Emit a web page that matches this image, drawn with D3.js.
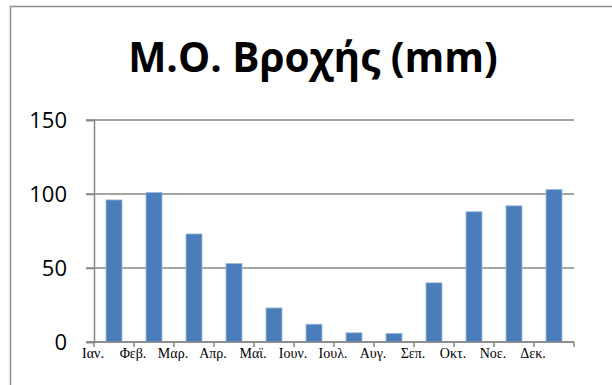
<!DOCTYPE html>
<html>
<head>
<meta charset="utf-8">
<script src="https://cdn.jsdelivr.net/npm/d3@7"></script>
<style>
  html, body { margin: 0; padding: 0; background: #fff; }
  svg { display: block; }
</style>
</head>
<body>
<svg id="chart" width="612" height="385"></svg>
<script>
// Average monthly rainfall (mm)
const months = ["Ιαν.", "Φεβ.", "Μαρ.", "Απρ.", "Μαϊ.", "Ιουν.", "Ιουλ.", "Αυγ.", "Σεπ.", "Οκτ.", "Νοε.", "Δεκ."];
const rainfall = [96, 101, 73, 53, 23, 12, 6.2, 5.8, 40, 88, 92, 103];
const yTicks = [0, 50, 100, 150];
const title = "Μ.Ο. Βροχής (mm)";

const svg = d3.select("#chart");
const axisColor = "#868686";

// chart frame
svg.append("rect")
  .attr("x", 10.5).attr("y", 6.5)
  .attr("width", 700).attr("height", 500)
  .attr("fill", "none")
  .attr("stroke", "#8f8f8f")
  .attr("stroke-width", 1.5);

// title
svg.append("text")
  .attr("x", 313).attr("y", 72)
  .attr("text-anchor", "middle")
  .attr("font-family", "'Open Sans', sans-serif")
  .attr("font-weight", 700)
  .attr("font-size", 40.5)
  .attr("fill", "#000")
  .text(title);

const plot = { left: 94, right: 574, top: 120, bottom: 342 };

const x = d3.scaleBand()
  .domain(months)
  .range([plot.left, plot.right])
  .paddingInner(0.6)
  .paddingOuter(0.3);

const xBand = d3.scaleBand()
  .domain(months)
  .range([plot.left, plot.right]);

const y = d3.scaleLinear()
  .domain([0, 150])
  .range([plot.bottom, plot.top]);

// gridlines
svg.append("g")
  .selectAll("line")
  .data(yTicks)
  .join("line")
  .attr("x1", plot.left - 8).attr("x2", plot.right)
  .attr("y1", d => y(d)).attr("y2", d => y(d))
  .attr("stroke", axisColor)
  .attr("stroke-width", 1.5);

// y axis
const yAxis = svg.append("g")
  .attr("transform", `translate(${plot.left},0)`)
  .call(d3.axisLeft(y).tickValues(yTicks).tickSize(8).tickPadding(19));
yAxis.select(".domain").attr("stroke", axisColor).attr("stroke-width", 1.5);
yAxis.selectAll(".tick line").attr("stroke", axisColor).attr("stroke-width", 1.5);
yAxis.selectAll(".tick text")
  .attr("font-family", "'Open Sans', sans-serif")
  .attr("font-size", 22)
  .attr("fill", "#000");

// bars
svg.append("g")
  .selectAll("rect")
  .data(months.map((m, i) => ({ m, v: rainfall[i] })))
  .join("rect")
  .attr("x", d => x(d.m))
  .attr("y", d => y(d.v))
  .attr("width", x.bandwidth())
  .attr("height", d => y(0) - y(d.v))
  .attr("fill", "#4a7ebb")
  .attr("stroke", "#9bb8de")
  .attr("stroke-width", 0.8);

// x axis: ticks at band boundaries, labels beside the left boundary
const boundaries = months.map(m => xBand(m)).concat([plot.right]);
const xAxis = svg.append("g")
  .attr("transform", `translate(0,${plot.bottom})`);
xAxis.append("line")
  .attr("x1", plot.left - 8).attr("x2", plot.right)
  .attr("stroke", axisColor).attr("stroke-width", 1.5);
xAxis.selectAll("line.tick")
  .data(boundaries)
  .join("line")
  .attr("class", "tick")
  .attr("x1", d => d).attr("x2", d => d)
  .attr("y1", 0).attr("y2", 5)
  .attr("stroke", axisColor).attr("stroke-width", 1.5);
xAxis.selectAll("text")
  .data(months)
  .join("text")
  .attr("x", d => xBand(d) - 1)
  .attr("y", 16)
  .attr("text-anchor", "middle")
  .attr("font-family", "'Liberation Serif', 'Times New Roman', serif")
  .attr("font-size", 14)
  .attr("fill", "#000")
  .text(d => d);
</script>
</body>
</html>
